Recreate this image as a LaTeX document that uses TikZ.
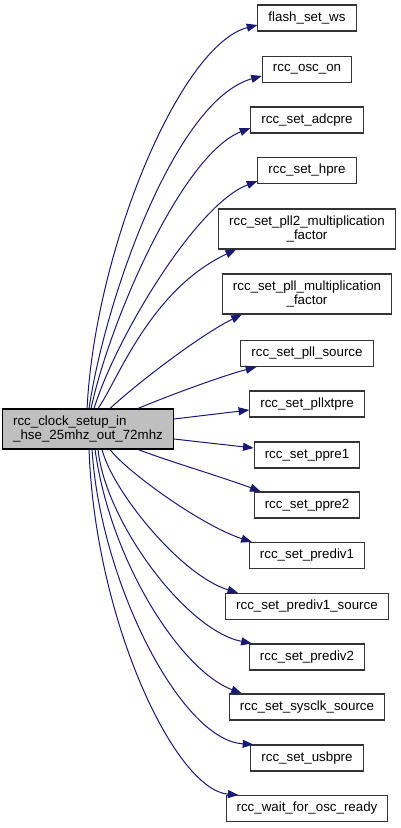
\documentclass[tikz,border=0pt]{standalone}
\usepackage{fontspec}
\setmainfont{Liberation Sans}
\usetikzlibrary{calc,arrows.meta}
\definecolor{edgeblue}{HTML}{191970}
\definecolor{maingrey}{HTML}{BFBFBF}
\tikzset{
  fn/.style={draw=black!80, line width=0.8pt, fill=white, inner xsep=7.9pt, inner ysep=2pt,
    minimum height=19.5pt, align=center, font=\fontsize{10}{10.5}\selectfont},
  fntwo/.style={fn, minimum height=30pt},
  mainfn/.style={fn, fill=maingrey, draw=black, minimum width=126pt, minimum height=30pt, align=left},
  call/.style={draw=edgeblue, line width=0.75pt, -{Triangle[length=8pt,width=6pt]}, fill=none},
}
\begin{document}
\begin{tikzpicture}[x=0.75pt,y=-0.75pt]
\useasboundingbox (0,0) rectangle (400,828);
\node[mainfn] (m) at (88,429) {rcc\_clock\_setup\_in\\\_hse\_25mhz\_out\_72mhz};
\node[fn] (n1) at (307,18) {flash\_set\_ws};
\node[fn] (n2) at (307,69.5) {rcc\_osc\_on};
\node[fn] (n3) at (307,120) {rcc\_set\_adcpre};
\node[fn] (n4) at (307,170.5) {rcc\_set\_hpre};
\node[fntwo] (n5) at (307,229) {rcc\_set\_pll2\_multiplication\\\_factor};
\node[fntwo] (n6) at (307,294) {rcc\_set\_pll\_multiplication\\\_factor};
\node[fn] (n7) at (307,353.5) {rcc\_set\_pll\_source};
\node[fn] (n8) at (307,404) {rcc\_set\_pllxtpre};
\node[fn] (n9) at (307,455) {rcc\_set\_ppre1};
\node[fn] (n10) at (307,505) {rcc\_set\_ppre2};
\node[fn] (n11) at (307,555.5) {rcc\_set\_prediv1};
\node[fn] (n12) at (307,606.5) {rcc\_set\_prediv1\_source};
\node[fn] (n13) at (307,657) {rcc\_set\_prediv2};
\node[fn] (n14) at (307,707) {rcc\_set\_sysclk\_source};
\node[fn] (n15) at (307,758) {rcc\_set\_usbpre};
\node[fn] (n16) at (307,808.5) {rcc\_wait\_for\_osc\_ready};

\draw[call] ($(m.north west)+(85,0)$) .. controls (95,250) and (180,45) .. ($(n1.west)+(0,7)$);
\draw[call] ($(m.north west)+(87,0)$) .. controls (105,300) and (175,100) .. ($(n2.west)+(0,6.5)$);
\draw[call] ($(m.north west)+(89,0)$) .. controls (110,320) and (182,155) .. ($(n3.west)+(0,8)$);
\draw[call] ($(m.north west)+(92,0)$) .. controls (115,340) and (195,205) .. ($(n4.south west)+(0,-3)$);
\draw[call] ($(m.north west)+(96,0)$) .. controls (118,380) and (150,290) .. ($(n5.south west)+(18,0)$);
\draw[call] ($(m.north west)+(108,0)$) .. controls (135,385) and (200,335) .. ($(n6.south west)+(20,0)$);
\draw[call] ($(m.north west)+(136,0)$) .. controls (170,395) and (225,375) .. ($(n7.south west)+(16,0)$);
\draw[call] ($(m.east)+(0,-10)$) -- ($(n8.west)+(0,6)$);
\draw[call] ($(m.east)+(0,10)$) -- ($(n9.west)+(0,-7)$);
\draw[call] ($(m.south west)+(136,0)$) .. controls (165,460) and (225,478) .. ($(n10.north west)+(7,0)$);
\draw[call] ($(m.south west)+(108,0)$) .. controls (125,470) and (200,525) .. ($(n11.north west)+(3,0)$);
\draw[call] ($(m.south west)+(100,0)$) .. controls (112,490) and (180,575) .. ($(n12.north west)+(13,0)$);
\draw[call] ($(m.south west)+(96,0)$) .. controls (105,520) and (185,630) .. ($(n13.north west)+(3,0)$);
\draw[call] ($(m.south west)+(93,0)$) .. controls (110,560) and (180,670) .. ($(n14.north west)+(13,0)$);
\draw[call] ($(m.south west)+(90,0)$) .. controls (100,580) and (180,740) .. ($(n15.north west)+(3,0)$);
\draw[call] ($(m.south west)+(87,0)$) .. controls (95,620) and (175,790) .. ($(n16.north west)+(13,0)$);
\end{tikzpicture}
\end{document}
